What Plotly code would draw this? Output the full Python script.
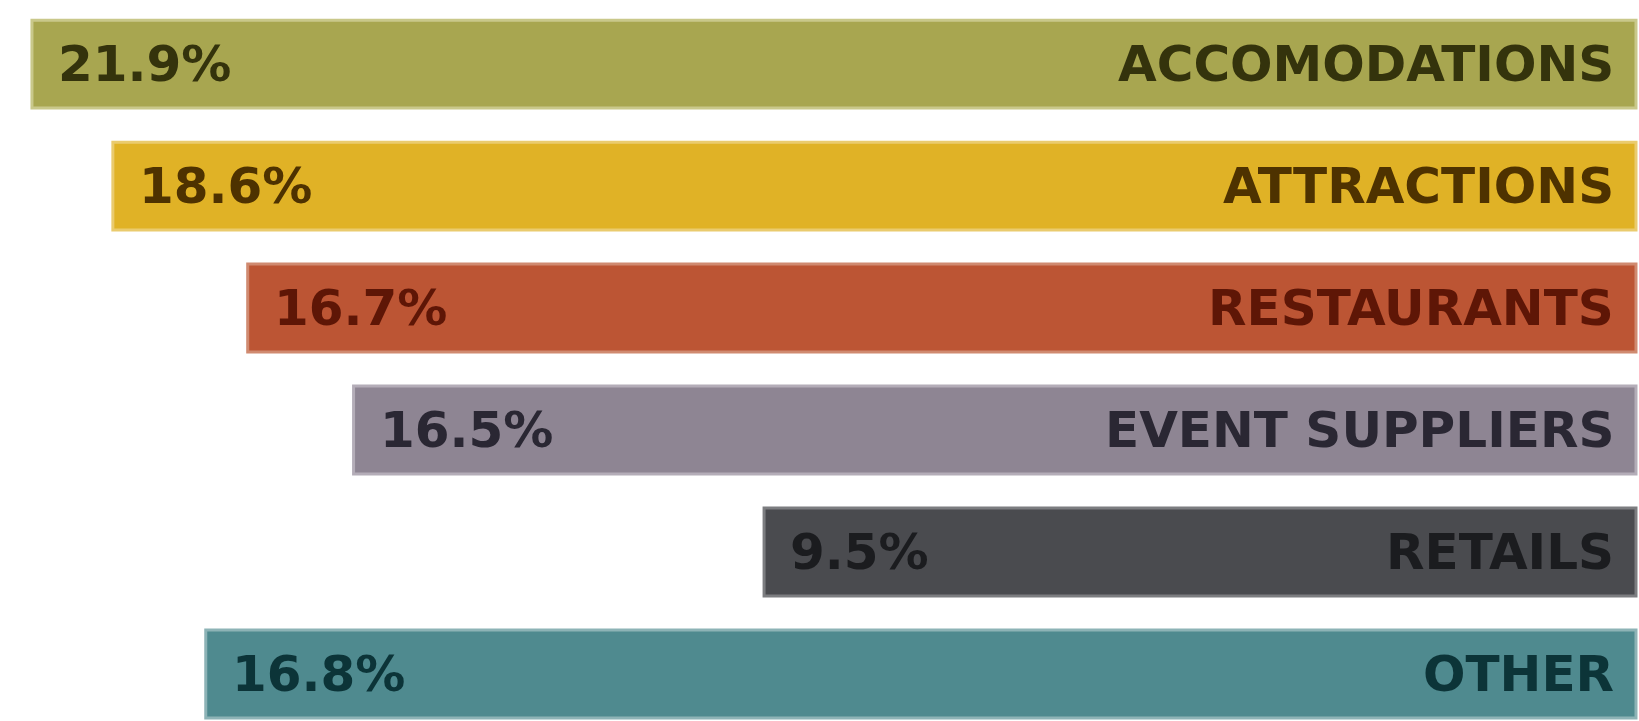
import plotly.graph_objects as go

categories = ["ACCOMODATIONS", "ATTRACTIONS", "RESTAURANTS", "EVENT SUPPLIERS", "RETAILS", "OTHER"]
share_labels = ["21.9%", "18.6%", "16.7%", "16.5%", "9.5%", "16.8%"]
# drawn bar lengths (as shown in the graphic, measured from the right edge)
bar_lengths = [1606, 1525, 1390, 1284, 873, 1432]
bar_colors = ["#A8A650", "#E0B226", "#BC5534", "#8E8593", "#4A4B4F", "#4F8A8F"]
edge_colors = ["#C9C88A", "#EACB6E", "#D08A70", "#B4ADB8", "#7C7D80", "#8DB3B6"]
text_colors = ["#34330C", "#4E3200", "#5E1606", "#2A2733", "#1B1C1F", "#0C3438"]

fig = go.Figure()
fig.add_trace(go.Bar(
    y=categories, x=bar_lengths, orientation="h",
    marker=dict(color=bar_colors, line=dict(color=edge_colors, width=3)),
    width=0.72, hoverinfo="skip", showlegend=False,
))

font = "DejaVu Sans"
for cat, lab, ln, tc in zip(categories, share_labels, bar_lengths, text_colors):
    fig.add_annotation(x=ln, y=cat, xref="x", yref="y", text=f"<b>{lab}</b>",
                       showarrow=False, xanchor="left", xshift=24,
                       font=dict(family=font, size=50, color=tc))
    fig.add_annotation(x=0, y=cat, xref="x", yref="y", text=f"<b>{cat}</b>",
                       showarrow=False, xanchor="right", xshift=-20,
                       font=dict(family=font, size=50, color=tc))

fig.update_layout(
    width=1639, height=721,
    margin=dict(l=0, r=0, t=0, b=0),
    paper_bgcolor="white", plot_bgcolor="white",
    xaxis=dict(range=[1638, -3], visible=False, fixedrange=True),
    yaxis=dict(type="category", categoryorder="array", categoryarray=categories,
               range=[5.385, -0.525], visible=False, fixedrange=True),
)
fig.write_html("out.html")
